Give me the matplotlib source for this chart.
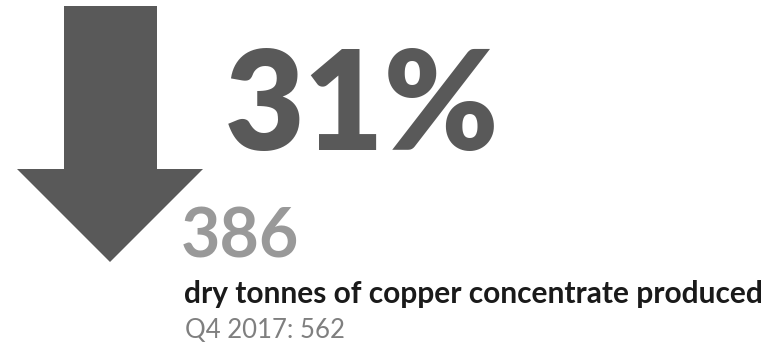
import matplotlib.pyplot as plt
from matplotlib.patches import Polygon

# quarterly copper concentrate output (dry tonnes)
quarters = ["Q4 2017", "Q4 2018"]
tonnes = [562, 386]
unit_label = "dry tonnes of copper concentrate produced"

prev, curr = tonnes
pct_change = round((prev - curr) / prev * 100)

plt.rcParams['font.family'] = ['Lato', 'DejaVu Sans']

fig = plt.figure(figsize=(7.65, 3.45), dpi=100)
ax = fig.add_axes([0, 0, 1, 1])
ax.set_xlim(0, 765)
ax.set_ylim(345, 0)
ax.axis('off')

# down arrow
arrow = Polygon([(64, 6), (157, 6), (157, 169), (203, 169),
                 (110, 262), (17, 169), (64, 169)],
                closed=True, facecolor='#595959', edgecolor='none')
ax.add_patch(arrow)

ax.text(225, 150, f"{pct_change}%", fontsize=99, fontweight='heavy',
        color='#595959', ha='left', va='baseline')
ax.text(181, 258, f"{curr}", fontsize=49, fontweight='bold',
        color='#999999', ha='left', va='baseline')
ax.text(184, 303, unit_label, fontsize=21.5, fontweight='bold',
        color='#1a1a1a', ha='left', va='baseline')
ax.text(185, 338, f"{quarters[0]}: {prev}", fontsize=18.5,
        color='#7f7f7f', ha='left', va='baseline')

fig.savefig('out.png', dpi=100)
